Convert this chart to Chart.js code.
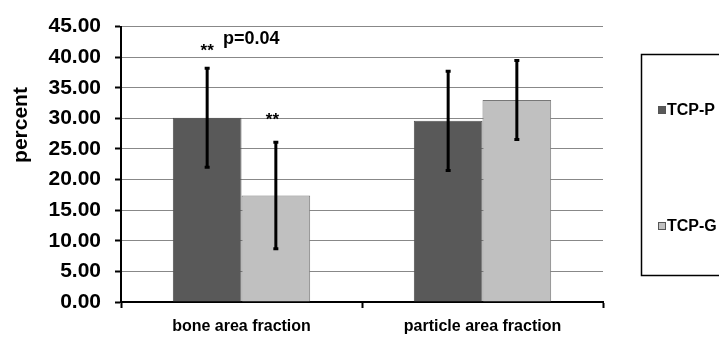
<!DOCTYPE html>
<html>
<head>
<meta charset="utf-8">
<script src="https://cdn.jsdelivr.net/npm/chart.js@4.4.1/dist/chart.umd.min.js"></script>
<style>
  html,body{margin:0;padding:0;background:#fff;}
  #c{display:block;}
</style>
</head>
<body>
<canvas id="c" width="719" height="338"></canvas>
<script>
/* bar chart: bone / particle area fraction, TCP-P vs TCP-G, with SD error bars */
const categories=['bone area fraction','particle area fraction'];
const seriesNames=['TCP-P','TCP-G'];
const tcpP=[30.1,29.6];
const tcpG=[17.4,33.0];
const tcpPErr=[8.1,8.1];
const tcpGErr=[8.7,6.45];
// significance labels: [text, category index, dataset index, y value, x shift in bar widths]
const notes=[['**',0,0,41.6,0],['p=0.04',0,0,43.0,0.23],['**',0,1,30.4,-0.05]];

const FONT='"Liberation Sans", Arial, sans-serif';
const errs=[tcpPErr,tcpGErr];

const extras={
  id:'extras',
  afterDatasetsDraw(chart){
    const {ctx,scales:{y}}=chart;
    ctx.save();
    // error bars
    ctx.strokeStyle='#000'; ctx.lineWidth=3; ctx.lineCap='butt';
    chart.data.datasets.forEach((ds,di)=>{
      chart.getDatasetMeta(di).data.forEach((bar,i)=>{
        const v=ds.data[i], e=errs[di][i];
        const yt=y.getPixelForValue(v+e), yb=y.getPixelForValue(v-e);
        ctx.beginPath(); ctx.moveTo(bar.x,yt); ctx.lineTo(bar.x,yb); ctx.stroke();
        ctx.beginPath();
        ctx.moveTo(bar.x-2.5,yt); ctx.lineTo(bar.x+2.5,yt);
        ctx.moveTo(bar.x-2.5,yb); ctx.lineTo(bar.x+2.5,yb);
        ctx.stroke();
      });
    });
    // notes
    ctx.fillStyle='#000'; ctx.textBaseline='middle';
    notes.forEach(([t,ci,di,v,dx])=>{
      const bar=chart.getDatasetMeta(di).data[ci];
      const x=bar.x+dx*bar.width;
      if(t==='**'){ ctx.font='bold 17px '+FONT; ctx.textAlign='center'; ctx.fillText(t,x,y.getPixelForValue(v)+4); }
      else { ctx.font='bold 18px '+FONT; ctx.textAlign='left'; ctx.fillText(t,x,y.getPixelForValue(v)); }
    });
    ctx.restore();
  },
  afterDraw(chart){
    const {ctx}=chart;
    ctx.save();
    // y title
    ctx.translate(21,125); ctx.rotate(-Math.PI/2);
    ctx.font='bold 21px '+FONT; ctx.fillStyle='#000';
    ctx.textAlign='center'; ctx.textBaseline='middle';
    ctx.fillText('percent',0,0);
    ctx.restore();
    // legend box
    ctx.save();
    ctx.strokeStyle='#000'; ctx.lineWidth=1.5;
    ctx.strokeRect(641.5,54.5,90,221);
    const ys=[110,226];
    chart.data.datasets.forEach((ds,i)=>{
      ctx.fillStyle=ds.backgroundColor; ctx.strokeStyle='#555'; ctx.lineWidth=1;
      ctx.fillRect(658,ys[i]-4,8,8); ctx.strokeRect(658.5,ys[i]-3.5,7,7);
      ctx.fillStyle='#000'; ctx.font='bold 16px '+FONT;
      ctx.textAlign='left'; ctx.textBaseline='middle';
      ctx.fillText(ds.label,667,ys[i]+1);
    });
    ctx.restore();
  }
};

new Chart(document.getElementById('c'),{
  type:'bar',
  data:{
    labels:categories,
    datasets:[
      {label:seriesNames[0],data:tcpP,backgroundColor:'#595959',borderColor:'#505050',borderWidth:1},
      {label:seriesNames[1],data:tcpG,backgroundColor:'#c0c0c0',borderColor:'#777777',borderWidth:1}
    ]
  },
  options:{
    responsive:false,animation:false,devicePixelRatio:1,
    categoryPercentage:0.57,barPercentage:1.0,
    layout:{padding:{top:24,right:116,left:0,bottom:0}},
    plugins:{legend:{display:false},tooltip:{enabled:false}},
    scales:{
      x:{
        grid:{drawOnChartArea:false,drawTicks:true,tickLength:6,tickColor:'#000',tickWidth:2},
        border:{color:'#000',width:2},
        ticks:{color:'#000',font:{family:FONT,size:16,weight:'bold'},padding:9},
        afterFit(s){s.height=36;}
      },
      y:{
        min:0,max:45,
        grid:{color:'#888',lineWidth:1,tickLength:6,tickColor:'#000',tickWidth:2},
        border:{color:'#000',width:2},
        ticks:{stepSize:5,color:'#000',padding:14,font:{family:FONT,size:21,weight:'bold'},
          callback:v=>v.toFixed(2)},
        afterFit(s){s.width=121;}
      }
    }
  },
  plugins:[extras]
});
</script>
</body>
</html>
